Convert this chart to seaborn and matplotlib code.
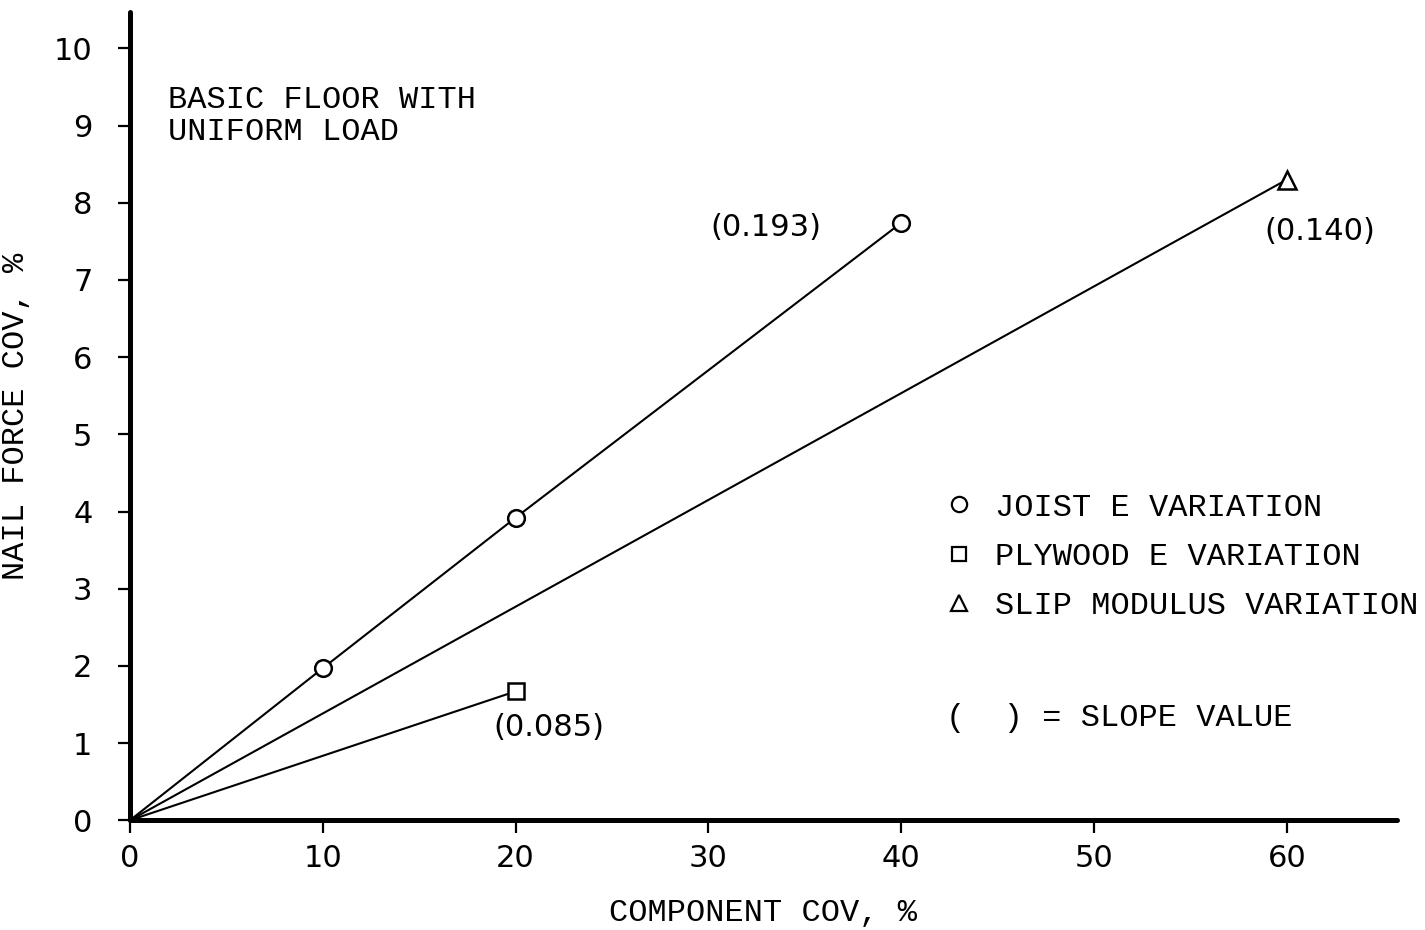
import matplotlib
matplotlib.use("Agg")
import matplotlib.pyplot as plt
from matplotlib.lines import Line2D
import numpy as np
import pandas as pd
import seaborn as sns

# Nail force coefficient of variation versus component coefficient of variation
joist_x = [0, 10, 20, 40]
joist_y = [0, 1.97, 3.92, 7.74]
plywood_x = [0, 20]
plywood_y = [0, 1.67]
slip_x = [0, 60]
slip_y = [0, 8.30]

series_names = ["JOIST E VARIATION", "PLYWOOD E VARIATION", "SLIP MODULUS VARIATION"]
slope_labels = ["(0.193)", "(0.085)", "(0.140)"]
x_ticks = [0, 10, 20, 30, 40, 50, 60]
y_ticks = [0, 1, 2, 3, 4, 5, 6, 7, 8, 9, 10]

df = pd.concat([
    pd.DataFrame({"x": joist_x, "y": joist_y, "series": series_names[0]}),
    pd.DataFrame({"x": plywood_x, "y": plywood_y, "series": series_names[1]}),
    pd.DataFrame({"x": slip_x, "y": slip_y, "series": series_names[2]}),
], ignore_index=True)

sns.set_style("white")
plt.rcParams["font.family"] = ["DejaVu Sans"]
plt.rcParams["text.color"] = "black"
plt.rcParams["axes.labelcolor"] = "black"
plt.rcParams["xtick.color"] = "black"
plt.rcParams["ytick.color"] = "black"

mono = "Liberation Mono"
num_font = "DejaVu Sans"

fig = plt.figure(figsize=(14.25, 9.3), dpi=100)
ax = fig.add_axes([0.0912, 0.118, 0.889, 0.869])

markers = {series_names[0]: "o", series_names[1]: "s", series_names[2]: "^"}
msizes = {series_names[0]: 12, series_names[1]: 11, series_names[2]: 13}

sns.lineplot(data=df, x="x", y="y", units="series", estimator=None,
             color="black", linewidth=1.5, ax=ax, legend=False, sort=False)

for name in series_names:
    pts = df[(df["series"] == name) & (df["x"] > 0)]
    ax.plot(pts["x"], pts["y"], linestyle="none", marker=markers[name],
            markersize=msizes[name], markerfacecolor="white",
            markeredgecolor="black", markeredgewidth=1.8, zorder=5)

ax.set_xlim(0, 65.7)
ax.set_ylim(0, 10.47)
ax.set_xticks(x_ticks)
ax.set_yticks(y_ticks)
ax.set_xticklabels([str(v) for v in x_ticks], fontsize=22, family=num_font)
ax.set_yticklabels([str(v) for v in y_ticks], fontsize=22, family=num_font)
ax.tick_params(axis="both", direction="out", length=9, width=1.6,
               color="black", bottom=True, left=True)
ax.tick_params(axis="y", pad=18)
ax.tick_params(axis="x", pad=8)

for side in ["top", "right"]:
    ax.spines[side].set_visible(False)
for side in ["left", "bottom"]:
    ax.spines[side].set_linewidth(3.6)
    ax.spines[side].set_color("black")
    ax.spines[side].set_capstyle("round")

ax.set_xlabel("COMPONENT COV, %", fontsize=23, family=mono, labelpad=18)
ax.set_ylabel("NAIL FORCE COV, %", fontsize=23, family=mono, labelpad=16)

ax.text(1.95, 9.12, "BASIC FLOOR WITH\nUNIFORM LOAD", fontsize=23, family=mono,
        va="center", ha="left", linespacing=1.1)

# slope annotations
ax.text(33.0, 7.68, slope_labels[0], fontsize=22, family=num_font, ha="center", va="center")
ax.text(21.7, 1.20, slope_labels[1], fontsize=22, family=num_font, ha="center", va="center")
ax.text(61.7, 7.63, slope_labels[2], fontsize=22, family=num_font, ha="center", va="center")

handles = [Line2D([], [], linestyle="none", marker=markers[n], markersize=msizes[n] - 1,
                  markerfacecolor="white", markeredgecolor="black", markeredgewidth=1.6)
           for n in series_names]
leg = ax.legend(handles, series_names, loc="center left", bbox_to_anchor=(0.644, 0.326),
                frameon=False, prop={"family": mono, "size": 23},
                handlelength=0.8, handletextpad=0.75, labelspacing=0.6, borderaxespad=0,
                borderpad=0)

ax.text(42.3, 1.32, "(  ) = SLOPE VALUE", fontsize=23, family=mono, ha="left", va="center")

fig.savefig("out.png", dpi=100)
